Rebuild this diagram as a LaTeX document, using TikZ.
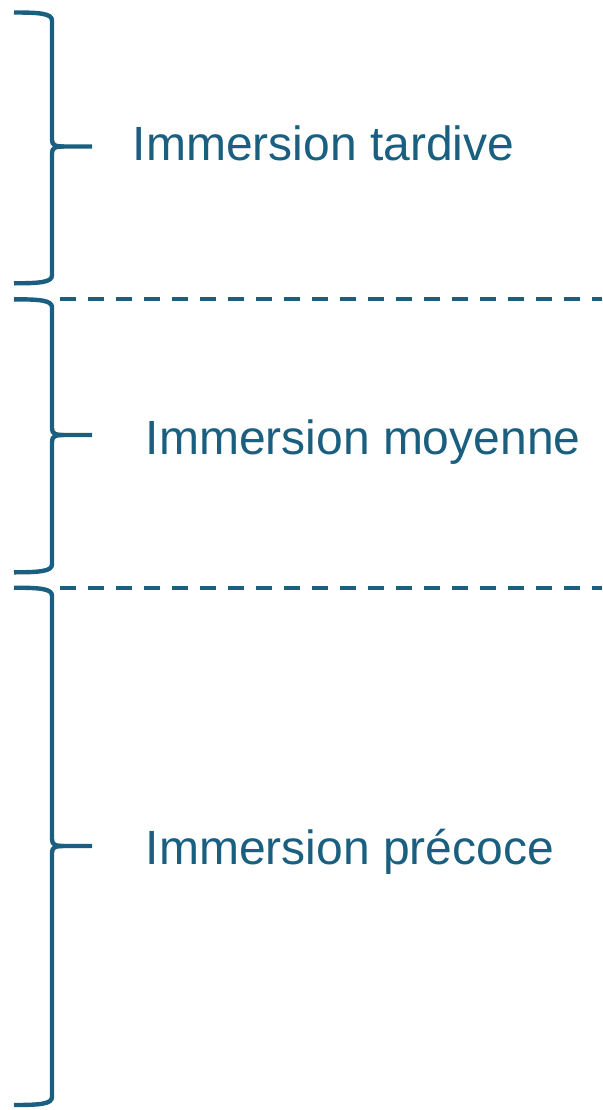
\documentclass[tikz,border=0pt]{standalone}
\usepackage{fontspec}
\setmainfont{Liberation Sans}
\definecolor{immblue}{RGB}{26,95,128}
\begin{document}
\begin{tikzpicture}[x=1pt,y=-1pt,
  bracepath/.style={draw=immblue,line width=4.4pt,line join=round},
  sepline/.style={draw=immblue,line width=4.2pt,dash pattern=on 16pt off 12pt},
  label/.style={text=immblue,font=\fontsize{48}{56}\selectfont,inner sep=0pt,anchor=base west}]
\useasboundingbox (0,0) rectangle (602,1110);

% brace: left end x=14, spine x=52, tip x=92
\newcommand{\bracedraw}[4]{%
  % #1 top y, #2 tip y, #3 bottom y, #4 name prefix
  \coordinate (#4top) at (14,#1);
  \coordinate (#4tip) at (92,#2);
  \coordinate (#4bot) at (14,#3);
  \draw[bracepath] (#4top) .. controls (40,#1) and (52,#1+1) .. (52,#1+8)
     -- (52,#2-7) .. controls (52,#2-1) and (55,#2) .. (64,#2) -- (#4tip);
  \draw[bracepath] (64,#2) .. controls (55,#2) and (52,#2+1) .. (52,#2+7)
     -- (52,#3-8) .. controls (52,#3-1) and (40,#3) .. (#4bot);
}

\bracedraw{12.5}{146.5}{283.3}{b1}
\bracedraw{299.3}{435}{572.3}{b2}
\bracedraw{587.7}{846}{1105}{b3}

% dashed separators
\coordinate (s1a) at (60,299.3);
\coordinate (s1b) at (602,299.3);
\coordinate (s2a) at (60,587.7);
\coordinate (s2b) at (602,587.7);
\draw[sepline] (s1a) -- (s1b);
\draw[sepline] (s2a) -- (s2b);

\node[label] (tardive) at (132.5,161) {Immersion tardive};
\node[label] (moyenne) at (145.5,454) {Immersion moyenne};
\node[label] (precoce) at (145.5,864) {Immersion précoce};
\end{tikzpicture}
\end{document}
